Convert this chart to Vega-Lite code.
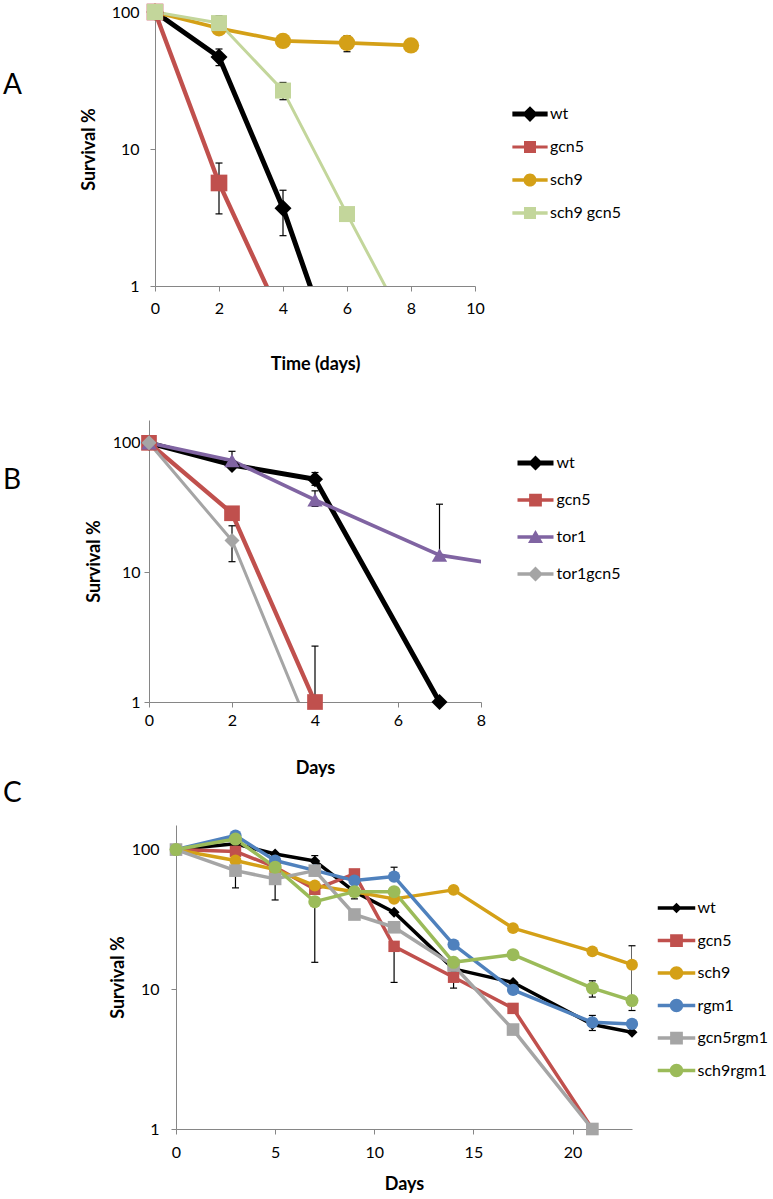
{
  "$schema": "https://vega.github.io/schema/vega-lite/v6.json",
  "background": "white",
  "padding": {"left": 2, "top": 3, "right": 0, "bottom": 0},
  "config": {
    "view": {"stroke": null},
    "font": "Lato",
    "axis": {"domainColor": "#868686", "tickColor": "#868686", "labelFont": "Lato", "labelFontSize": 16, "labelColor": "#000000", "titleFont": "Lato", "titleFontSize": 18, "titleFontWeight": "bold", "titleColor": "#000000", "grid": false, "tickSize": 5, "labelFlush": false},
    "legend": {"orient": "none", "title": null, "labelFontSize": 16, "labelFont": "Lato", "labelColor": "#000000", "padding": 0, "symbolSize": 225, "symbolOpacity": 1, "symbolStrokeWidth": 0}
  },
  "datasets": {
    "a": [
      {"s": "wt", "d": 0, "v": 100}, {"s": "wt", "d": 2, "v": 47}, {"s": "wt", "d": 4, "v": 3.7}, {"s": "wt", "d": 6, "v": 0.17},
      {"s": "gcn5", "d": 0, "v": 100}, {"s": "gcn5", "d": 2, "v": 5.65}, {"s": "gcn5", "d": 4, "v": 0.55},
      {"s": "sch9", "d": 0, "v": 100}, {"s": "sch9", "d": 2, "v": 76}, {"s": "sch9", "d": 4, "v": 61.5}, {"s": "sch9", "d": 6, "v": 59.5}, {"s": "sch9", "d": 8, "v": 57},
      {"s": "sch9 gcn5", "d": 0, "v": 100}, {"s": "sch9 gcn5", "d": 2, "v": 83}, {"s": "sch9 gcn5", "d": 4, "v": 26.7}, {"s": "sch9 gcn5", "d": 6, "v": 3.35}, {"s": "sch9 gcn5", "d": 8, "v": 0.44}
    ],
    "ae": [
      {"s": "wt", "d": 2, "lo": 40.6, "hi": 53.7},
      {"s": "wt", "d": 4, "lo": 2.33, "hi": 5.0},
      {"s": "gcn5", "d": 2, "lo": 3.36, "hi": 7.9},
      {"s": "sch9", "d": 6, "lo": 51.3, "hi": 67},
      {"s": "sch9 gcn5", "d": 2, "lo": 83, "hi": 94},
      {"s": "sch9 gcn5", "d": 4, "lo": 22.9, "hi": 30.6}
    ],
    "b": [
      {"s": "wt", "d": 0, "v": 100}, {"s": "wt", "d": 2, "v": 67.5}, {"s": "wt", "d": 4, "v": 52.4}, {"s": "wt", "d": 7, "v": 1},
      {"s": "gcn5", "d": 0, "v": 100}, {"s": "gcn5", "d": 2, "v": 28.6}, {"s": "gcn5", "d": 4, "v": 1},
      {"s": "tor1", "d": 0, "v": 100}, {"s": "tor1", "d": 2, "v": 73}, {"s": "tor1", "d": 4, "v": 36.3}, {"s": "tor1", "d": 7, "v": 13.6}, {"s": "tor1", "d": 9, "v": 10.8},
      {"s": "tor1gcn5", "d": 0, "v": 100}, {"s": "tor1gcn5", "d": 2, "v": 17.6}, {"s": "tor1gcn5", "d": 4, "v": 0.49}
    ],
    "be": [
      {"s": "wt", "d": 2, "lo": 67.5, "hi": 86},
      {"s": "wt", "d": 4, "lo": 47, "hi": 59},
      {"s": "tor1", "d": 4, "lo": 32.3, "hi": 42.6},
      {"s": "tor1", "d": 7, "lo": 13.6, "hi": 33.6},
      {"s": "gcn5", "d": 4, "lo": 1, "hi": 2.7},
      {"s": "tor1gcn5", "d": 2, "lo": 12.1, "hi": 22.9}
    ],
    "c": [
      {"s": "wt", "d": 0, "v": 100}, {"s": "wt", "d": 3, "v": 110}, {"s": "wt", "d": 5, "v": 93}, {"s": "wt", "d": 7, "v": 83}, {"s": "wt", "d": 9, "v": 50}, {"s": "wt", "d": 11, "v": 35.6}, {"s": "wt", "d": 14, "v": 14}, {"s": "wt", "d": 17, "v": 11.2}, {"s": "wt", "d": 21, "v": 5.6}, {"s": "wt", "d": 23, "v": 4.93},
      {"s": "gcn5", "d": 0, "v": 100}, {"s": "gcn5", "d": 3, "v": 97}, {"s": "gcn5", "d": 5, "v": 75}, {"s": "gcn5", "d": 7, "v": 52}, {"s": "gcn5", "d": 9, "v": 67}, {"s": "gcn5", "d": 11, "v": 20.3}, {"s": "gcn5", "d": 14, "v": 12.2}, {"s": "gcn5", "d": 17, "v": 7.3}, {"s": "gcn5", "d": 21, "v": 1},
      {"s": "sch9", "d": 0, "v": 100}, {"s": "sch9", "d": 3, "v": 83.5}, {"s": "sch9", "d": 5, "v": 72}, {"s": "sch9", "d": 7, "v": 55.3}, {"s": "sch9", "d": 9, "v": 50}, {"s": "sch9", "d": 11, "v": 44.4}, {"s": "sch9", "d": 14, "v": 51.5}, {"s": "sch9", "d": 17, "v": 27.4}, {"s": "sch9", "d": 21, "v": 18.7}, {"s": "sch9", "d": 23, "v": 15},
      {"s": "rgm1", "d": 0, "v": 100}, {"s": "rgm1", "d": 3, "v": 126}, {"s": "rgm1", "d": 5, "v": 83.5}, {"s": "rgm1", "d": 7, "v": 71}, {"s": "rgm1", "d": 9, "v": 60}, {"s": "rgm1", "d": 11, "v": 64.1}, {"s": "rgm1", "d": 14, "v": 20.9}, {"s": "rgm1", "d": 17, "v": 9.9}, {"s": "rgm1", "d": 21, "v": 5.8}, {"s": "rgm1", "d": 23, "v": 5.65},
      {"s": "gcn5rgm1", "d": 0, "v": 100}, {"s": "gcn5rgm1", "d": 3, "v": 70.7}, {"s": "gcn5rgm1", "d": 5, "v": 61.7}, {"s": "gcn5rgm1", "d": 7, "v": 70.7}, {"s": "gcn5rgm1", "d": 9, "v": 34.3}, {"s": "gcn5rgm1", "d": 11, "v": 27.8}, {"s": "gcn5rgm1", "d": 14, "v": 14.8}, {"s": "gcn5rgm1", "d": 17, "v": 5.15}, {"s": "gcn5rgm1", "d": 21, "v": 1},
      {"s": "sch9rgm1", "d": 0, "v": 100}, {"s": "sch9rgm1", "d": 3, "v": 119}, {"s": "sch9rgm1", "d": 5, "v": 74.8}, {"s": "sch9rgm1", "d": 7, "v": 42.4}, {"s": "sch9rgm1", "d": 9, "v": 50}, {"s": "sch9rgm1", "d": 11, "v": 50}, {"s": "sch9rgm1", "d": 14, "v": 15.6}, {"s": "sch9rgm1", "d": 17, "v": 17.7}, {"s": "sch9rgm1", "d": 21, "v": 10.2}, {"s": "sch9rgm1", "d": 23, "v": 8.3}
    ],
    "ce": [
      {"s": "wt", "d": 7, "lo": 83, "hi": 90.6},
      {"s": "wt", "d": 9, "lo": 44.4, "hi": 50},
      {"s": "gcn5rgm1", "d": 3, "lo": 53.2, "hi": 70.7},
      {"s": "gcn5rgm1", "d": 5, "lo": 43.6, "hi": 61.7},
      {"s": "sch9rgm1", "d": 7, "lo": 15.6, "hi": 42.4},
      {"s": "rgm1", "d": 11, "lo": 64.1, "hi": 74.8},
      {"s": "gcn5", "d": 11, "lo": 11.2, "hi": 20.3},
      {"s": "gcn5", "d": 14, "lo": 10.2, "hi": 12.2},
      {"s": "sch9rgm1", "d": 21, "lo": 8.8, "hi": 11.5},
      {"s": "rgm1", "d": 21, "lo": 5.07, "hi": 6.5},
      {"s": "sch9", "d": 23, "lo": 7.05, "hi": 20.5}
    ],
    "none": []
  },
  "spacing": 3,
  "resolve": {"scale": {"x": "independent", "y": "independent", "color": "independent", "shape": "independent", "size": "independent", "strokeWidth": "independent"}, "legend": {"color": "independent", "shape": "independent"}},
  "vconcat": [
    {
      "spacing": 47,
      "resolve": {"scale": {"x": "independent", "y": "independent", "color": "independent", "shape": "independent", "size": "independent", "strokeWidth": "independent"}, "legend": {"color": "independent", "shape": "independent"}},
      "vconcat": [
        {
          "spacing": 0,
          "resolve": {"scale": {"x": "independent", "y": "independent", "color": "independent", "shape": "independent", "size": "independent", "strokeWidth": "independent"}, "legend": {"color": "independent", "shape": "independent"}},
          "hconcat": [
            {"width": 1, "height": 1, "data": {"name": "none"}, "mark": "point", "encoding": {}},
            {
              "width": 320, "height": 274,
              "title": {"text": "A", "anchor": "start", "frame": "group", "orient": "top", "offset": 0, "dx": -152, "dy": 118, "fontSize": 28, "fontWeight": "normal", "font": "Lato", "baseline": "alphabetic", "color": "#000000"},
              "resolve": {"scale": {"color": "independent", "shape": "independent", "size": "independent", "strokeWidth": "independent"}},
              "encoding": {
                "x": {"field": "d", "type": "quantitative", "scale": {"domain": [0, 10], "nice": false}, "axis": {"values": [0, 2, 4, 6, 8, 10], "labelPadding": 9, "titlePadding": 39}, "title": "Time (days)"}
              },
              "layer": [
                {
                  "data": {"name": "a"},
                  "mark": {"type": "line", "clip": true, "strokeJoin": "round"},
                  "encoding": {
                    "y": {"field": "v", "type": "quantitative", "scale": {"type": "log", "domain": [1, 100], "nice": false}, "axis": {"values": [1, 10, 100], "format": "d", "labelPadding": 11, "titlePadding": 13}, "title": "Survival %"},
                    "color": {"field": "s", "type": "nominal", "scale": {"domain": ["wt", "gcn5", "sch9", "sch9 gcn5"], "range": ["#000000", "#c0504d", "#d4a017", "#c3d69b"]}, "legend": null},
                    "strokeWidth": {"field": "s", "type": "nominal", "scale": {"domain": ["wt", "gcn5", "sch9", "sch9 gcn5"], "range": [5, 3, 3.5, 3.5]}, "legend": null}
                  }
                },
                {
                  "data": {"name": "ae"},
                  "mark": {"type": "rule", "color": "#000000", "strokeWidth": 1.2, "clip": true},
                  "encoding": {
                    "y": {"field": "lo", "type": "quantitative", "scale": {"type": "log", "domain": [1, 100], "nice": false}, "axis": {"values": [1, 10, 100], "format": "d", "labelPadding": 11, "titlePadding": 13}, "title": "Survival %"},
                    "y2": {"field": "hi"}
                  }
                },
                {
                  "data": {"name": "ae"},
                  "mark": {"type": "point", "shape": "M-1,0H1", "size": 49, "filled": false, "stroke": "#000000", "strokeWidth": 1.2, "opacity": 1},
                  "encoding": {
                    "y": {"field": "lo", "type": "quantitative", "scale": {"type": "log", "domain": [1, 100], "nice": false}, "axis": {"values": [1, 10, 100], "format": "d", "labelPadding": 11, "titlePadding": 13}, "title": "Survival %"}
                  }
                },
                {
                  "data": {"name": "ae"},
                  "mark": {"type": "point", "shape": "M-1,0H1", "size": 49, "filled": false, "stroke": "#000000", "strokeWidth": 1.2, "opacity": 1},
                  "encoding": {
                    "y": {"field": "hi", "type": "quantitative", "scale": {"type": "log", "domain": [1, 100], "nice": false}, "axis": {"values": [1, 10, 100], "format": "d", "labelPadding": 11, "titlePadding": 13}, "title": "Survival %"}
                  }
                },
                {
                  "data": {"name": "a"},
                  "transform": [{"filter": "datum.v >= 1"}],
                  "mark": {"type": "point", "filled": true, "opacity": 1, "strokeWidth": 0},
                  "encoding": {
                    "y": {"field": "v", "type": "quantitative", "scale": {"type": "log", "domain": [1, 100], "nice": false}, "axis": {"values": [1, 10, 100], "format": "d", "labelPadding": 11, "titlePadding": 13}, "title": "Survival %"},
                    "color": {"field": "s", "type": "nominal", "scale": {"domain": ["wt", "gcn5", "sch9", "sch9 gcn5"], "range": ["#000000", "#c0504d", "#d4a017", "#c3d69b"]}, "legend": null},
                    "shape": {"field": "s", "type": "nominal", "scale": {"domain": ["wt", "gcn5", "sch9", "sch9 gcn5"], "range": ["diamond", "square", "circle", "square"]}, "legend": null},
                    "size": {"field": "s", "type": "nominal", "scale": {"domain": ["wt", "gcn5", "sch9", "sch9 gcn5"], "range": [289, 256, 196, 196]}, "legend": null}
                  }
                },
                {
                  "data": {"name": "a"},
                  "transform": [{"filter": "false"}],
                  "mark": {"type": "point", "filled": true, "opacity": 1, "strokeWidth": 0, "size": 225},
                  "encoding": {
                    "y": {"field": "v", "type": "quantitative", "scale": {"type": "log", "domain": [1, 100], "nice": false}, "axis": {"values": [1, 10, 100], "format": "d", "labelPadding": 11, "titlePadding": 13}, "title": "Survival %"},
                    "color": {"field": "s", "type": "nominal", "scale": {"domain": ["wt", "gcn5", "sch9", "sch9 gcn5"], "range": ["#000000", "#c0504d", "#d4a017", "#c3d69b"]},
                      "legend": {"legendX": 367, "legendY": 94, "labelOffset": 12, "rowPadding": 17}},
                    "shape": {"field": "s", "type": "nominal", "scale": {"domain": ["wt", "gcn5", "sch9", "sch9 gcn5"], "range": [
                      "M-2.35,-0.33H2.35V0.33H-2.35ZM0,-1.05L1.05,0L0,1.05L-1.05,0Z",
                      "M-2.35,-0.2H2.35V0.2H-2.35ZM-0.8,-0.8H0.8V0.8H-0.8Z",
                      "M-2.35,-0.24H2.35V0.24H-2.35ZM-0.87,0A0.87,0.87 0 1 1 0.87,0A0.87,0.87 0 1 1 -0.87,0Z",
                      "M-2.35,-0.24H2.35V0.24H-2.35ZM-0.8,-0.8H0.8V0.8H-0.8Z"]},
                      "legend": {"legendX": 367, "legendY": 94, "labelOffset": 12, "rowPadding": 17}}
                  }
                }
              ]
            }
          ]
        },
        {
          "spacing": 0,
          "resolve": {"scale": {"x": "independent", "y": "independent", "color": "independent", "shape": "independent", "size": "independent", "strokeWidth": "independent"}, "legend": {"color": "independent", "shape": "independent"}},
          "hconcat": [
            {"width": 1, "height": 1, "data": {"name": "none"}, "mark": "point", "encoding": {}},
            {
              "width": 332, "height": 282,
              "title": {"text": "B", "anchor": "start", "frame": "group", "orient": "top", "offset": 0, "dx": -146, "dy": 97, "fontSize": 28, "fontWeight": "normal", "font": "Lato", "baseline": "alphabetic", "color": "#000000"},
              "resolve": {"scale": {"color": "independent", "shape": "independent", "size": "independent", "strokeWidth": "independent"}},
              "encoding": {
                "x": {"field": "d", "type": "quantitative", "scale": {"domain": [0, 8], "nice": false}, "axis": {"values": [0, 2, 4, 6, 8], "labelPadding": 5, "titlePadding": 31}, "title": "Days"}
              },
              "layer": [
                {
                  "data": {"name": "b"},
                  "mark": {"type": "line", "clip": true, "strokeJoin": "round"},
                  "encoding": {
                    "y": {"field": "v", "type": "quantitative", "scale": {"type": "log", "domain": [1, 150], "nice": false}, "axis": {"values": [1, 10, 100], "format": "d", "labelPadding": 4, "titlePadding": 9}, "title": "Survival %"},
                    "color": {"field": "s", "type": "nominal", "scale": {"domain": ["wt", "gcn5", "tor1", "tor1gcn5"], "range": ["#000000", "#c0504d", "#8064a2", "#a5a5a5"]}, "legend": null},
                    "strokeWidth": {"field": "s", "type": "nominal", "scale": {"domain": ["wt", "gcn5", "tor1", "tor1gcn5"], "range": [5, 3, 3.5, 3.5]}, "legend": null}
                  }
                },
                {
                  "data": {"name": "be"},
                  "mark": {"type": "rule", "color": "#000000", "strokeWidth": 1.2, "clip": true},
                  "encoding": {
                    "y": {"field": "lo", "type": "quantitative", "scale": {"type": "log", "domain": [1, 150], "nice": false}, "axis": {"values": [1, 10, 100], "format": "d", "labelPadding": 4, "titlePadding": 9}, "title": "Survival %"},
                    "y2": {"field": "hi"}
                  }
                },
                {
                  "data": {"name": "be"},
                  "mark": {"type": "point", "shape": "M-1,0H1", "size": 49, "filled": false, "stroke": "#000000", "strokeWidth": 1.2, "opacity": 1},
                  "encoding": {
                    "y": {"field": "lo", "type": "quantitative", "scale": {"type": "log", "domain": [1, 150], "nice": false}, "axis": {"values": [1, 10, 100], "format": "d", "labelPadding": 4, "titlePadding": 9}, "title": "Survival %"}
                  }
                },
                {
                  "data": {"name": "be"},
                  "mark": {"type": "point", "shape": "M-1,0H1", "size": 49, "filled": false, "stroke": "#000000", "strokeWidth": 1.2, "opacity": 1},
                  "encoding": {
                    "y": {"field": "hi", "type": "quantitative", "scale": {"type": "log", "domain": [1, 150], "nice": false}, "axis": {"values": [1, 10, 100], "format": "d", "labelPadding": 4, "titlePadding": 9}, "title": "Survival %"}
                  }
                },
                {
                  "data": {"name": "b"},
                  "transform": [{"filter": "datum.v >= 1 && datum.d <= 8"}],
                  "mark": {"type": "point", "filled": true, "opacity": 1, "strokeWidth": 0},
                  "encoding": {
                    "y": {"field": "v", "type": "quantitative", "scale": {"type": "log", "domain": [1, 150], "nice": false}, "axis": {"values": [1, 10, 100], "format": "d", "labelPadding": 4, "titlePadding": 9}, "title": "Survival %"},
                    "color": {"field": "s", "type": "nominal", "scale": {"domain": ["wt", "gcn5", "tor1", "tor1gcn5"], "range": ["#000000", "#c0504d", "#8064a2", "#a5a5a5"]}, "legend": null},
                    "shape": {"field": "s", "type": "nominal", "scale": {"domain": ["wt", "gcn5", "tor1", "tor1gcn5"], "range": ["diamond", "square", "triangle-up", "diamond"]}, "legend": null},
                    "size": {"field": "s", "type": "nominal", "scale": {"domain": ["wt", "gcn5", "tor1", "tor1gcn5"], "range": [256, 225, 225, 225]}, "legend": null}
                  }
                },
                {
                  "data": {"name": "b"},
                  "transform": [{"filter": "false"}],
                  "mark": {"type": "point", "filled": true, "opacity": 1, "strokeWidth": 0, "size": 225},
                  "encoding": {
                    "y": {"field": "v", "type": "quantitative", "scale": {"type": "log", "domain": [1, 150], "nice": false}, "axis": {"values": [1, 10, 100], "format": "d", "labelPadding": 4, "titlePadding": 9}, "title": "Survival %"},
                    "color": {"field": "s", "type": "nominal", "scale": {"domain": ["wt", "gcn5", "tor1", "tor1gcn5"], "range": ["#000000", "#c0504d", "#8064a2", "#a5a5a5"]},
                      "legend": {"legendX": 378.5, "legendY": 35, "labelOffset": 13, "rowPadding": 21}},
                    "shape": {"field": "s", "type": "nominal", "scale": {"domain": ["wt", "gcn5", "tor1", "tor1gcn5"], "range": [
                      "M-2.4,-0.33H2.4V0.33H-2.4ZM0,-1L1,0L0,1L-1,0Z",
                      "M-2.4,-0.22H2.4V0.22H-2.4ZM-0.85,-0.85H0.85V0.85H-0.85Z",
                      "M-2.4,-0.24H2.4V0.24H-2.4ZM0,-0.95L1,0.8L-1,0.8Z",
                      "M-2.4,-0.24H2.4V0.24H-2.4ZM0,-1L1,0L0,1L-1,0Z"]},
                      "legend": {"legendX": 378.5, "legendY": 35, "labelOffset": 13, "rowPadding": 21}}
                  }
                }
              ]
            }
          ]
        }
      ]
    },
    {
      "spacing": 0,
      "resolve": {"scale": {"x": "independent", "y": "independent", "color": "independent", "shape": "independent", "size": "independent", "strokeWidth": "independent"}, "legend": {"color": "independent", "shape": "independent"}},
      "hconcat": [
        {"width": 1, "height": 1, "data": {"name": "none"}, "mark": "point", "encoding": {}},
        {
          "width": 456, "height": 304,
          "title": {"text": "C", "anchor": "start", "frame": "group", "orient": "top", "offset": 0, "dx": -173, "dy": 5, "fontSize": 28, "fontWeight": "normal", "font": "Lato", "baseline": "alphabetic", "color": "#000000"},
          "resolve": {"scale": {"color": "independent", "shape": "independent", "size": "independent", "strokeWidth": "independent"}},
          "encoding": {
            "x": {"field": "d", "type": "quantitative", "scale": {"domain": [0, 23], "nice": false}, "axis": {"values": [0, 5, 10, 15, 20], "labelPadding": 10, "titlePadding": 15}, "title": "Days"}
          },
          "layer": [
            {
              "data": {"name": "c"},
              "mark": {"type": "line", "clip": true, "strokeJoin": "round"},
              "encoding": {
                "y": {"field": "v", "type": "quantitative", "scale": {"type": "log", "domain": [1, 150], "nice": false}, "axis": {"values": [1, 10, 100], "format": "d", "labelPadding": 12, "titlePadding": 4}, "title": "Survival %"},
                "color": {"field": "s", "type": "nominal", "scale": {"domain": ["wt", "gcn5", "sch9", "rgm1", "gcn5rgm1", "sch9rgm1"], "range": ["#000000", "#c0504d", "#d4a017", "#4f81bd", "#a5a5a5", "#9bbb59"]}, "legend": null},
                "strokeWidth": {"field": "s", "type": "nominal", "scale": {"domain": ["wt", "gcn5", "sch9", "rgm1", "gcn5rgm1", "sch9rgm1"], "range": [3.5, 3.5, 3.5, 3.5, 3.5, 3.5]}, "legend": null}
              }
            },
            {
              "data": {"name": "ce"},
              "mark": {"type": "rule", "color": "#000000", "strokeWidth": 1.2, "clip": true},
              "encoding": {
                "y": {"field": "lo", "type": "quantitative", "scale": {"type": "log", "domain": [1, 150], "nice": false}, "axis": {"values": [1, 10, 100], "format": "d", "labelPadding": 12, "titlePadding": 4}, "title": "Survival %"},
                "y2": {"field": "hi"}
              }
            },
            {
              "data": {"name": "ce"},
              "mark": {"type": "point", "shape": "M-1,0H1", "size": 49, "filled": false, "stroke": "#000000", "strokeWidth": 1.2, "opacity": 1},
              "encoding": {
                "y": {"field": "lo", "type": "quantitative", "scale": {"type": "log", "domain": [1, 150], "nice": false}, "axis": {"values": [1, 10, 100], "format": "d", "labelPadding": 12, "titlePadding": 4}, "title": "Survival %"}
              }
            },
            {
              "data": {"name": "ce"},
              "mark": {"type": "point", "shape": "M-1,0H1", "size": 49, "filled": false, "stroke": "#000000", "strokeWidth": 1.2, "opacity": 1},
              "encoding": {
                "y": {"field": "hi", "type": "quantitative", "scale": {"type": "log", "domain": [1, 150], "nice": false}, "axis": {"values": [1, 10, 100], "format": "d", "labelPadding": 12, "titlePadding": 4}, "title": "Survival %"}
              }
            },
            {
              "data": {"name": "c"},
              "mark": {"type": "point", "filled": true, "opacity": 1, "strokeWidth": 0},
              "encoding": {
                "y": {"field": "v", "type": "quantitative", "scale": {"type": "log", "domain": [1, 150], "nice": false}, "axis": {"values": [1, 10, 100], "format": "d", "labelPadding": 12, "titlePadding": 4}, "title": "Survival %"},
                "color": {"field": "s", "type": "nominal", "scale": {"domain": ["wt", "gcn5", "sch9", "rgm1", "gcn5rgm1", "sch9rgm1"], "range": ["#000000", "#c0504d", "#d4a017", "#4f81bd", "#a5a5a5", "#9bbb59"]}, "legend": null},
                "shape": {"field": "s", "type": "nominal", "scale": {"domain": ["wt", "gcn5", "sch9", "rgm1", "gcn5rgm1", "sch9rgm1"], "range": ["diamond", "square", "circle", "circle", "square", "circle"]}, "legend": null},
                "size": {"field": "s", "type": "nominal", "scale": {"domain": ["wt", "gcn5", "sch9", "rgm1", "gcn5rgm1", "sch9rgm1"], "range": [121, 169, 196, 196, 169, 196]}, "legend": null}
              }
            },
            {
              "data": {"name": "c"},
              "transform": [{"filter": "false"}],
              "mark": {"type": "point", "filled": true, "opacity": 1, "strokeWidth": 0, "size": 225},
              "encoding": {
                "y": {"field": "v", "type": "quantitative", "scale": {"type": "log", "domain": [1, 150], "nice": false}, "axis": {"values": [1, 10, 100], "format": "d", "labelPadding": 12, "titlePadding": 4}, "title": "Survival %"},
                "color": {"field": "s", "type": "nominal", "scale": {"domain": ["wt", "gcn5", "sch9", "rgm1", "gcn5rgm1", "sch9rgm1"], "range": ["#000000", "#c0504d", "#d4a017", "#4f81bd", "#a5a5a5", "#9bbb59"]},
                  "legend": {"legendX": 492.5, "legendY": 75, "labelOffset": 13, "rowPadding": 16.5}},
                "shape": {"field": "s", "type": "nominal", "scale": {"domain": ["wt", "gcn5", "sch9", "rgm1", "gcn5rgm1", "sch9rgm1"], "range": [
                  "M-2.5,-0.24H2.5V0.24H-2.5ZM0,-0.7L0.7,0L0,0.7L-0.7,0Z",
                  "M-2.5,-0.24H2.5V0.24H-2.5ZM-0.85,-0.85H0.85V0.85H-0.85Z",
                  "M-2.5,-0.24H2.5V0.24H-2.5ZM-0.9,0A0.9,0.9 0 1 1 0.9,0A0.9,0.9 0 1 1 -0.9,0Z",
                  "M-2.5,-0.24H2.5V0.24H-2.5ZM-0.9,0A0.9,0.9 0 1 1 0.9,0A0.9,0.9 0 1 1 -0.9,0Z",
                  "M-2.5,-0.24H2.5V0.24H-2.5ZM-0.85,-0.85H0.85V0.85H-0.85Z",
                  "M-2.5,-0.24H2.5V0.24H-2.5ZM-0.9,0A0.9,0.9 0 1 1 0.9,0A0.9,0.9 0 1 1 -0.9,0Z"]},
                  "legend": {"legendX": 492.5, "legendY": 75, "labelOffset": 13, "rowPadding": 16.5}}
              }
            }
          ]
        }
      ]
    }
  ]
}
